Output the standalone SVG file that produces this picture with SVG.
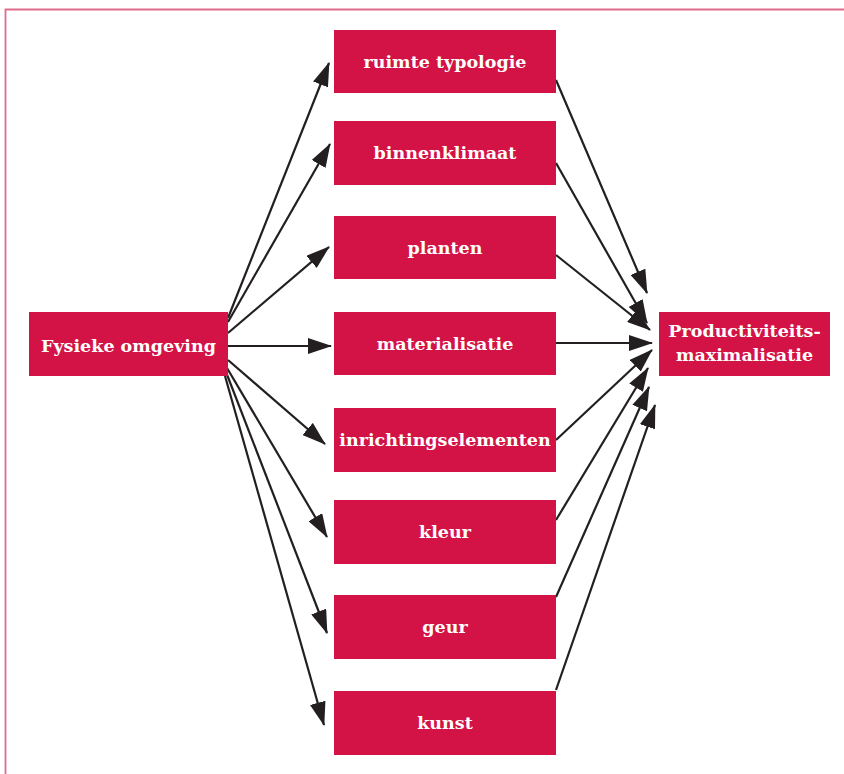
<svg xmlns="http://www.w3.org/2000/svg" width="844" height="774" viewBox="0 0 844 774">
<defs>
<style>
.box{fill:#d31345}
.lbl{fill:#ffffff;font-family:"DejaVu Serif","Liberation Serif",serif;font-weight:bold;font-size:17.5px;text-anchor:middle}
.edge{stroke:#231f20;stroke-width:2.2;fill:none;marker-end:url(#ah)}
.frame{stroke:#e06c8c;stroke-width:1.8;fill:none}
</style>
<marker id="ah" markerUnits="userSpaceOnUse" markerWidth="24" markerHeight="16" refX="23" refY="8" orient="auto" viewBox="0 0 24 16">
<path d="M0,0 L24,8 L0,16 z" fill="#231f20"/>
</marker>
</defs>
<rect width="844" height="774" fill="#ffffff"/>
<path class="frame" d="M5.5,774 L5.5,9.5 L844,9.5"/>
<g id="connectors">
<line class="edge" x1="228" y1="318" x2="329" y2="63"/>
<line class="edge" x1="228" y1="322" x2="330" y2="144"/>
<line class="edge" x1="228" y1="333" x2="329" y2="247"/>
<line class="edge" x1="228" y1="346" x2="331" y2="346"/>
<line class="edge" x1="228" y1="360" x2="325" y2="444"/>
<line class="edge" x1="227" y1="368" x2="327" y2="537"/>
<line class="edge" x1="226" y1="372" x2="327" y2="633"/>
<line class="edge" x1="225" y1="376" x2="324" y2="725"/>
<line class="edge" x1="556" y1="80" x2="647" y2="293"/>
<line class="edge" x1="556" y1="163" x2="647" y2="323"/>
<line class="edge" x1="556" y1="255" x2="650" y2="330"/>
<line class="edge" x1="556" y1="343" x2="652" y2="343"/>
<line class="edge" x1="556" y1="440" x2="652" y2="350"/>
<line class="edge" x1="556" y1="520" x2="648" y2="368"/>
<line class="edge" x1="556" y1="597" x2="649" y2="387"/>
<line class="edge" x1="556" y1="690" x2="655" y2="405"/>
</g>
<g id="fysieke">
<rect class="box" x="29" y="312" width="199" height="64"/>
<text class="lbl" x="128.5" y="352">Fysieke omgeving</text>
</g>
<g id="ruimte">
<rect class="box" x="334" y="30" width="222" height="63"/>
<text class="lbl" x="445" y="68">ruimte typologie</text>
</g>
<g id="binnenklimaat">
<rect class="box" x="334" y="121" width="222" height="64"/>
<text class="lbl" x="445" y="159">binnenklimaat</text>
</g>
<g id="planten">
<rect class="box" x="334" y="216" width="222" height="63"/>
<text class="lbl" x="445" y="254">planten</text>
</g>
<g id="materialisatie">
<rect class="box" x="334" y="312" width="222" height="63"/>
<text class="lbl" x="445" y="350">materialisatie</text>
</g>
<g id="inrichting">
<rect class="box" x="334" y="408" width="222" height="64"/>
<text class="lbl" x="445" y="446">inrichtingselementen</text>
</g>
<g id="kleur">
<rect class="box" x="334" y="500" width="222" height="64"/>
<text class="lbl" x="445" y="538">kleur</text>
</g>
<g id="geur">
<rect class="box" x="334" y="595" width="222" height="64"/>
<text class="lbl" x="445" y="633">geur</text>
</g>
<g id="kunst">
<rect class="box" x="334" y="691" width="222" height="64"/>
<text class="lbl" x="445" y="729">kunst</text>
</g>
<g id="productiviteit">
<rect class="box" x="659" y="312" width="171" height="64"/>
<text class="lbl" x="744.5" y="337">Productiviteits-</text>
<text class="lbl" x="744.5" y="361">maximalisatie</text>
</g>
</svg>
